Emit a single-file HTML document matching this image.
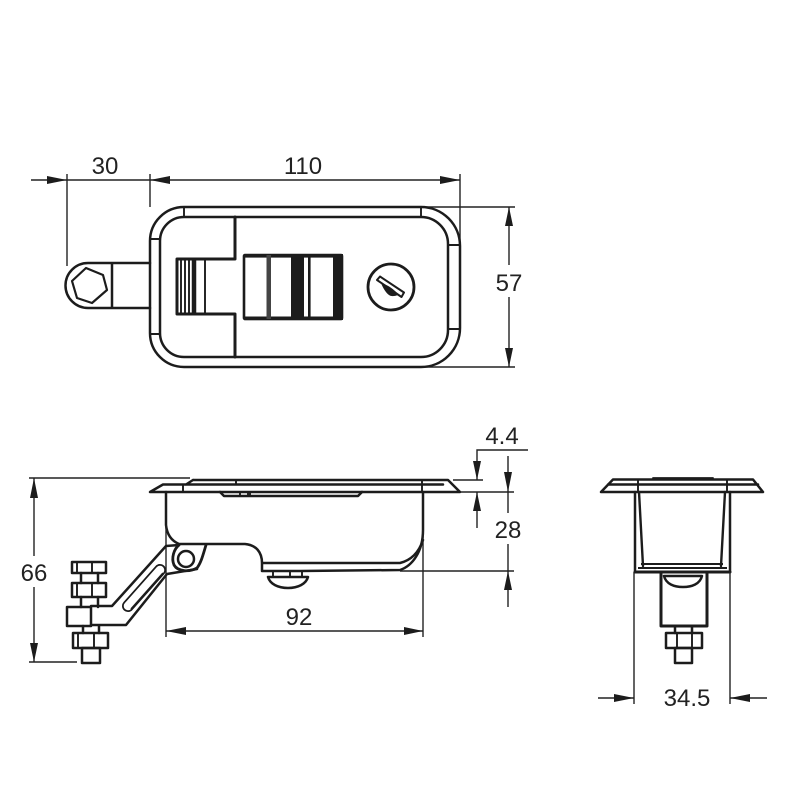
<!DOCTYPE html>
<html>
<head>
<meta charset="utf-8">
<style>
html,body{margin:0;padding:0;background:#fff;}
svg{display:block;}
text{font-family:"Liberation Sans",sans-serif;font-size:24px;fill:#222;text-anchor:middle;}
.o{fill:none;stroke:#1c1c1c;stroke-width:2.5;stroke-linejoin:round;stroke-linecap:round;}
.m{fill:none;stroke:#1c1c1c;stroke-width:1.9;stroke-linejoin:round;}
.d{fill:none;stroke:#222;stroke-width:1.4;}
.a{fill:#1c1c1c;stroke:none;}
</style>
</head>
<body>
<svg width="800" height="800" viewBox="0 0 800 800" xmlns="http://www.w3.org/2000/svg">
<rect width="800" height="800" fill="#fff"/>

<!-- TOP VIEW dimensions -->
<path class="d" d="M31 180H460M67 174V266M150 174V207M460 174V246M421 207H515M421 367H515M509 207V265M509 297V367"/>
<path class="a" d="M47 176L67 180L47 184ZM150 180L170 176V184ZM460 180L440 176V184ZM509 207L505 226H513ZM509 367L505 348H513Z"/>
<text x="105" y="174">30</text>
<text x="303" y="174">110</text>
<text x="509" y="291">57</text>

<!-- Top view body -->
<path class="o" d="M184 207H421A39 39 0 0 1 460 246V328A39 39 0 0 1 421 367H184A34 34 0 0 1 150 333V241A34 34 0 0 1 184 207Z"/>
<path class="o" d="M184 217H421A27 27 0 0 1 448 244V330A27 27 0 0 1 421 357H184A24 24 0 0 1 160 333V241A24 24 0 0 1 184 217Z"/>
<path class="m" d="M184 207V217M421 207V217M150 239H160M150 334H160M448 245H460M448 329H460"/>
<!-- Cutout -->
<path class="o" style="stroke-width:3" d="M235 217V259H177V314H235V357"/>
<path class="m" d="M181 259V314M185 259V314M189 259V314M205 259V314"/>
<path class="o" style="stroke-width:4.500;stroke-linecap:butt" d="M194 259V314"/>
<!-- Slider -->
<rect x="244" y="255" width="98" height="64" fill="#fff" stroke="#1c1c1c" stroke-width="2.6" rx="1"/>
<rect x="244" y="254" width="98" height="3.6" class="a"/>
<rect x="244" y="316.500" width="98" height="3.6" class="a"/>
<rect x="266.500" y="255" width="4.500" height="64" fill="#444"/>
<rect x="291" y="255" width="13" height="64" class="a"/>
<rect x="308" y="255" width="2.600" height="64" class="a"/>
<rect x="333" y="254" width="10" height="66" class="a"/>
<!-- Key -->
<circle class="o" style="stroke-width:2.8" cx="391" cy="287" r="23"/>
<path class="o" style="stroke-width:2" d="M377 280L380 276.500L404 292.500L401.500 297Z"/>
<path class="a" d="M381 283C386 284 396 290 398 295C394 296.500 391 296.500 389 295C386 293 383 288 381 283Z"/>
<!-- Handle -->
<path class="o" d="M150 263H88A22.500 22.500 0 0 0 88 308H150M112 263V308"/>
<path class="o" style="stroke-width:2.2" d="M86 268L103 275L107 290L92 303L77 298L72 281Z"/>

<!-- SIDE VIEW -->
<path class="d" d="M29 478H190M34 478V556M34 587V662M29 662H77"/>
<path class="a" d="M34 478L30 498H38ZM34 662L30 643H38Z"/>
<text x="34" y="581">66</text>

<path class="o" d="M193 480H448L460 492H150L163 484.500H443M193 480L186 484.500"/>
<path class="m" d="M183 484.500V492M236 480V484.500M422 480V492"/>
<path class="o" d="M220 492L224 496H358L362 492"/>
<path class="m" d="M240 492V496M248 492V496M250 492V496"/>
<!-- body -->
<path class="o" d="M166 492V525C167 535 172 541 179 544H245C256 545 262 552 262 563V571H300L400 570C412 566 423 552 423 530V492"/>
<path class="o" d="M263 563H400C412 560 419 552 423 540"/>
<path class="d" d="M166 525V637M423 530V637M400 571H514"/>
<path class="d" d="M166 631H423"/>
<path class="a" d="M166 631L186 627V635ZM423 631L404 627V635Z"/>
<text x="299" y="625">92</text>

<!-- knob -->
<path class="m" d="M273 572V577M302 572V577M290 572V577"/>
<path class="o" d="M268 577H308C306 584 298 588 288 588C278 588 270 584 268 577Z"/>
<!-- hinge -->
<circle class="o" cx="186" cy="559" r="8"/>
<path class="o" style="stroke-width:2.800" d="M206 545C203 555 201 563 197 568C190 572 178 572 174 565C171 558 174 549 179 545"/>
<!-- arm -->
<path class="o" d="M179 545L166 546L112 606H91M91 625H126L167 574L197 569"/>
<rect x="67" y="607" width="24" height="19" class="o" fill="#fff"/>
<path d="M128 606L160 570" fill="none" stroke="#1c1c1c" stroke-width="12" stroke-linecap="round"/>
<path d="M128 606L160 570" fill="none" stroke="#fff" stroke-width="8.500" stroke-linecap="round"/>
<path class="m" style="stroke-width:1.6" d="M131 609L163 573"/>
<!-- nuts left -->
<rect x="72" y="562" width="34" height="11" class="o"/>
<rect x="72" y="583" width="34" height="14" class="o"/>
<rect x="73" y="633" width="35" height="15" class="o"/>
<path class="o" d="M81 573V583M98 573V583M81 597V607M98 597V607M83 626V633M99 626V633"/>
<path class="m" d="M77 562V573M92 562V573M77 583V597M92 583V597M78 633V648M94 633V648"/>
<rect x="82" y="648" width="18" height="15" class="o"/>

<!-- Dim 4.4 and 28 -->
<path class="d" d="M528 450H477V480M453 480H483M460 492H514M477 492V528M508 456V492M508 513V492M508 544V607"/>
<path class="a" d="M477 480L473 461H481ZM477 492L473 511H481ZM508 492L504 472H512ZM508 571L504 590H512Z"/>
<text x="502" y="444">4.4</text>
<text x="508" y="538">28</text>

<!-- FRONT VIEW -->
<path class="o" d="M613 479.500H753L763 492H601ZM608 484.500H758"/>
<path class="o" style="stroke-width:1.8" d="M653 478H713"/>
<path class="m" d="M638 479.500V492M727 479.500V492"/>
<path class="o" d="M635 492V572H730V492"/>
<path class="o" style="stroke-width:2.4" d="M639 492L643 566M725 492L721 566"/>
<path class="m" d="M641 564H723M638 568H727"/>
<path class="o" style="stroke-width:3" d="M635 572H730"/>
<path class="d" d="M634 572V704M730 572V704"/>
<path class="d" d="M598 698H634M730 698H767"/>
<path class="a" d="M634 698L614 694V702ZM730 698L750 694V702Z"/>
<text x="687" y="706">34.5</text>
<!-- lower -->
<path class="o" style="stroke-width:3" d="M661 573V626H707V573"/>
<path class="o" d="M664 576H702C700 584 692 587 683 587C674 587 666 584 664 576Z"/>
<path class="o" d="M675 626V633M692 626V633"/>
<rect x="666" y="633" width="36" height="15" class="o"/>
<path class="m" d="M677 633V648M692 633V648"/>
<rect x="675" y="648" width="17" height="15" class="o"/>
</svg>
</body>
</html>
